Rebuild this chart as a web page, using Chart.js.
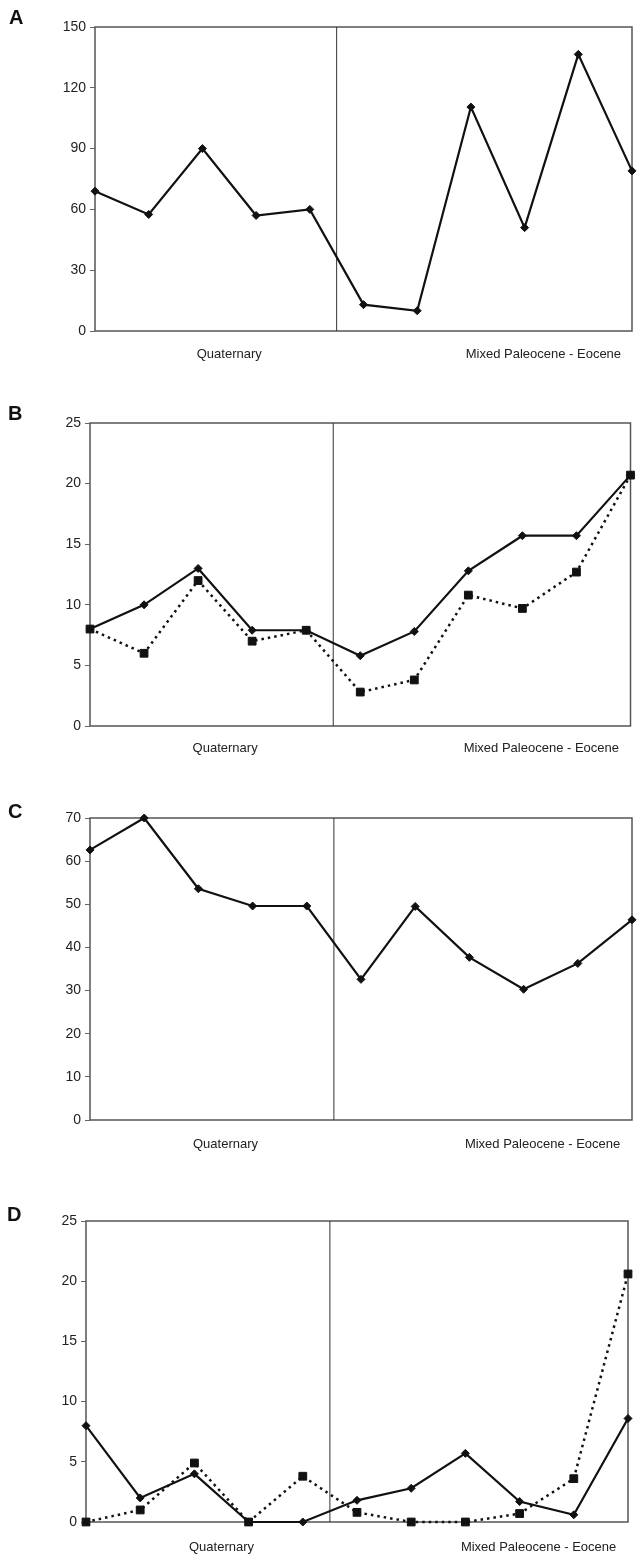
<!DOCTYPE html>
<html>
<head>
<meta charset="utf-8">
<script src="https://cdn.jsdelivr.net/npm/chart.js@4.4.0/dist/chart.umd.min.js"></script>
<style>
  html, body { margin: 0; padding: 0; background: #fff; }
  body { width: 637px; height: 1557px; position: relative; overflow: hidden; }
  canvas { position: absolute; left: 0; }
</style>
</head>
<body>
<canvas id="chartA" width="637" height="380" style="top:0px"></canvas>
<canvas id="chartB" width="637" height="390" style="top:385px"></canvas>
<canvas id="chartC" width="637" height="390" style="top:785px"></canvas>
<canvas id="chartD" width="637" height="372" style="top:1185px"></canvas>
<script>
// samples, left to right
const groupLabels = ['Quaternary', 'Mixed Paleocene - Eocene'];
const groupTickAt = [2.5, 8.35];
const dividerAt = 4.5;

const seriesA = [69, 57.5, 90, 57, 60, 13, 10, 110.5, 51, 136.5, 79];
const seriesBSolid = [8, 10, 13, 7.9, 7.9, 5.8, 7.8, 12.8, 15.7, 15.7, 20.7];
const seriesBDotted = [8, 6, 12, 7, 7.9, 2.8, 3.8, 10.8, 9.7, 12.7, 20.7];
const seriesC = [62.6, 70, 53.6, 49.6, 49.6, 32.6, 49.5, 37.7, 30.3, 36.3, 46.4];
const seriesDSolid = [8, 2, 4, 0, 0, 1.8, 2.8, 5.7, 1.7, 0.6, 8.6];
const seriesDDotted = [0, 1, 4.9, 0, 3.8, 0.8, 0, 0, 0.7, 3.6, 20.6];

const ticksA = [0, 30, 60, 90, 120, 150];
const ticksB = [0, 5, 10, 15, 20, 25];
const ticksC = [0, 10, 20, 30, 40, 50, 60, 70];
const ticksD = [0, 5, 10, 15, 20, 25];

const FONT = '"Liberation Sans", Arial, Helvetica, sans-serif';
const X_AXIS_H = 35;

function lineSet(values, dotted) {
  return {
    data: values.map((v, i) => ({ x: i, y: v })),
    borderColor: '#111',
    backgroundColor: '#111',
    borderWidth: dotted ? 2.5 : 2.2,
    borderDash: dotted ? [2.5, 4] : [],
    pointStyle: dotted ? 'rect' : 'rectRot',
    pointRadius: dotted ? 5.5 : 4,
    pointBorderWidth: 1,
    tension: 0,
    clip: false,
    order: dotted ? 2 : 1
  };
}

function dividerSet(ticks) {
  return {
    data: [{ x: dividerAt, y: ticks[0] }, { x: dividerAt, y: ticks[ticks.length - 1] }],
    borderColor: '#333',
    borderWidth: 1,
    pointRadius: 0,
    clip: false,
    order: 5
  };
}

// frame + letter
const panelDecor = {
  id: 'panelDecor',
  beforeDatasetsDraw(chart, args, opts) {
    const a = chart.chartArea, ctx = chart.ctx;
    ctx.save();
    ctx.strokeStyle = '#555';
    ctx.lineWidth = 1.5;
    ctx.strokeRect(a.left, a.top, a.right - a.left, a.bottom - a.top);
    ctx.restore();
  },
  afterDraw(chart, args, opts) {
    const ctx = chart.ctx;
    ctx.save();
    ctx.fillStyle = '#111';
    ctx.font = 'bold 20px ' + FONT;
    ctx.textBaseline = 'middle';
    ctx.fillText(opts.letter, opts.x, opts.y);
    ctx.restore();
  }
};

function makePanel(id, frame, ticks, datasets) {
  const canvas = document.getElementById(id);
  const h = canvas.height;
  return new Chart(canvas, {
    type: 'line',
    data: { datasets: [dividerSet(ticks)].concat(datasets) },
    plugins: [panelDecor],
    options: {
      responsive: false,
      animation: false,
      devicePixelRatio: 1,
      layout: {
        padding: {
          left: 0,
          right: 637 - frame.right,
          top: frame.top,
          bottom: h - frame.bottom - X_AXIS_H
        }
      },
      plugins: {
        legend: { display: false },
        tooltip: { enabled: false },
        panelDecor: { letter: frame.letter, x: frame.lx, y: frame.ly }
      },
      scales: {
        x: {
          type: 'linear',
          min: 0,
          max: seriesA.length - 1,
          border: { display: false },
          grid: { display: false },
          afterBuildTicks(s) { s.ticks = groupTickAt.map(v => ({ value: v })); },
          afterFit(s) { s.height = X_AXIS_H; s.paddingLeft = 0; s.paddingRight = 0; },
          ticks: {
            autoSkip: false,
            maxRotation: 0,
            padding: frame.labelPad,
            color: '#222',
            font: { family: FONT, size: 13 },
            callback(v) { return groupLabels[groupTickAt.indexOf(v)]; }
          }
        },
        y: {
          min: ticks[0],
          max: ticks[ticks.length - 1],
          border: { display: false },
          grid: { drawOnChartArea: false, drawTicks: true, tickLength: 5, color: '#666', lineWidth: 1 },
          afterBuildTicks(s) { s.ticks = ticks.map(v => ({ value: v })); },
          afterFit(s) { s.width = frame.left; s.paddingTop = 0; s.paddingBottom = 0; },
          ticks: {
            padding: 4,
            color: '#222',
            font: { family: FONT, size: 14 }
          }
        }
      }
    }
  });
}

// frames are in each canvas' own coordinates
makePanel('chartA', { left: 95, right: 633, top: 27, bottom: 331, labelPad: 8, letter: 'A', lx: 9, ly: 18 },
  ticksA, [lineSet(seriesA, false)]);
makePanel('chartB', { left: 90, right: 634, top: 38, bottom: 341, labelPad: 7, letter: 'B', lx: 8, ly: 29 },
  ticksB, [lineSet(seriesBSolid, false), lineSet(seriesBDotted, true)]);
makePanel('chartC', { left: 90, right: 634, top: 33, bottom: 335, labelPad: 9, letter: 'C', lx: 8, ly: 27 },
  ticksC, [lineSet(seriesC, false)]);
makePanel('chartD', { left: 86, right: 628, top: 36, bottom: 337, labelPad: 10, letter: 'D', lx: 7, ly: 30 },
  ticksD, [lineSet(seriesDSolid, false), lineSet(seriesDDotted, true)]);
</script>
</body>
</html>
